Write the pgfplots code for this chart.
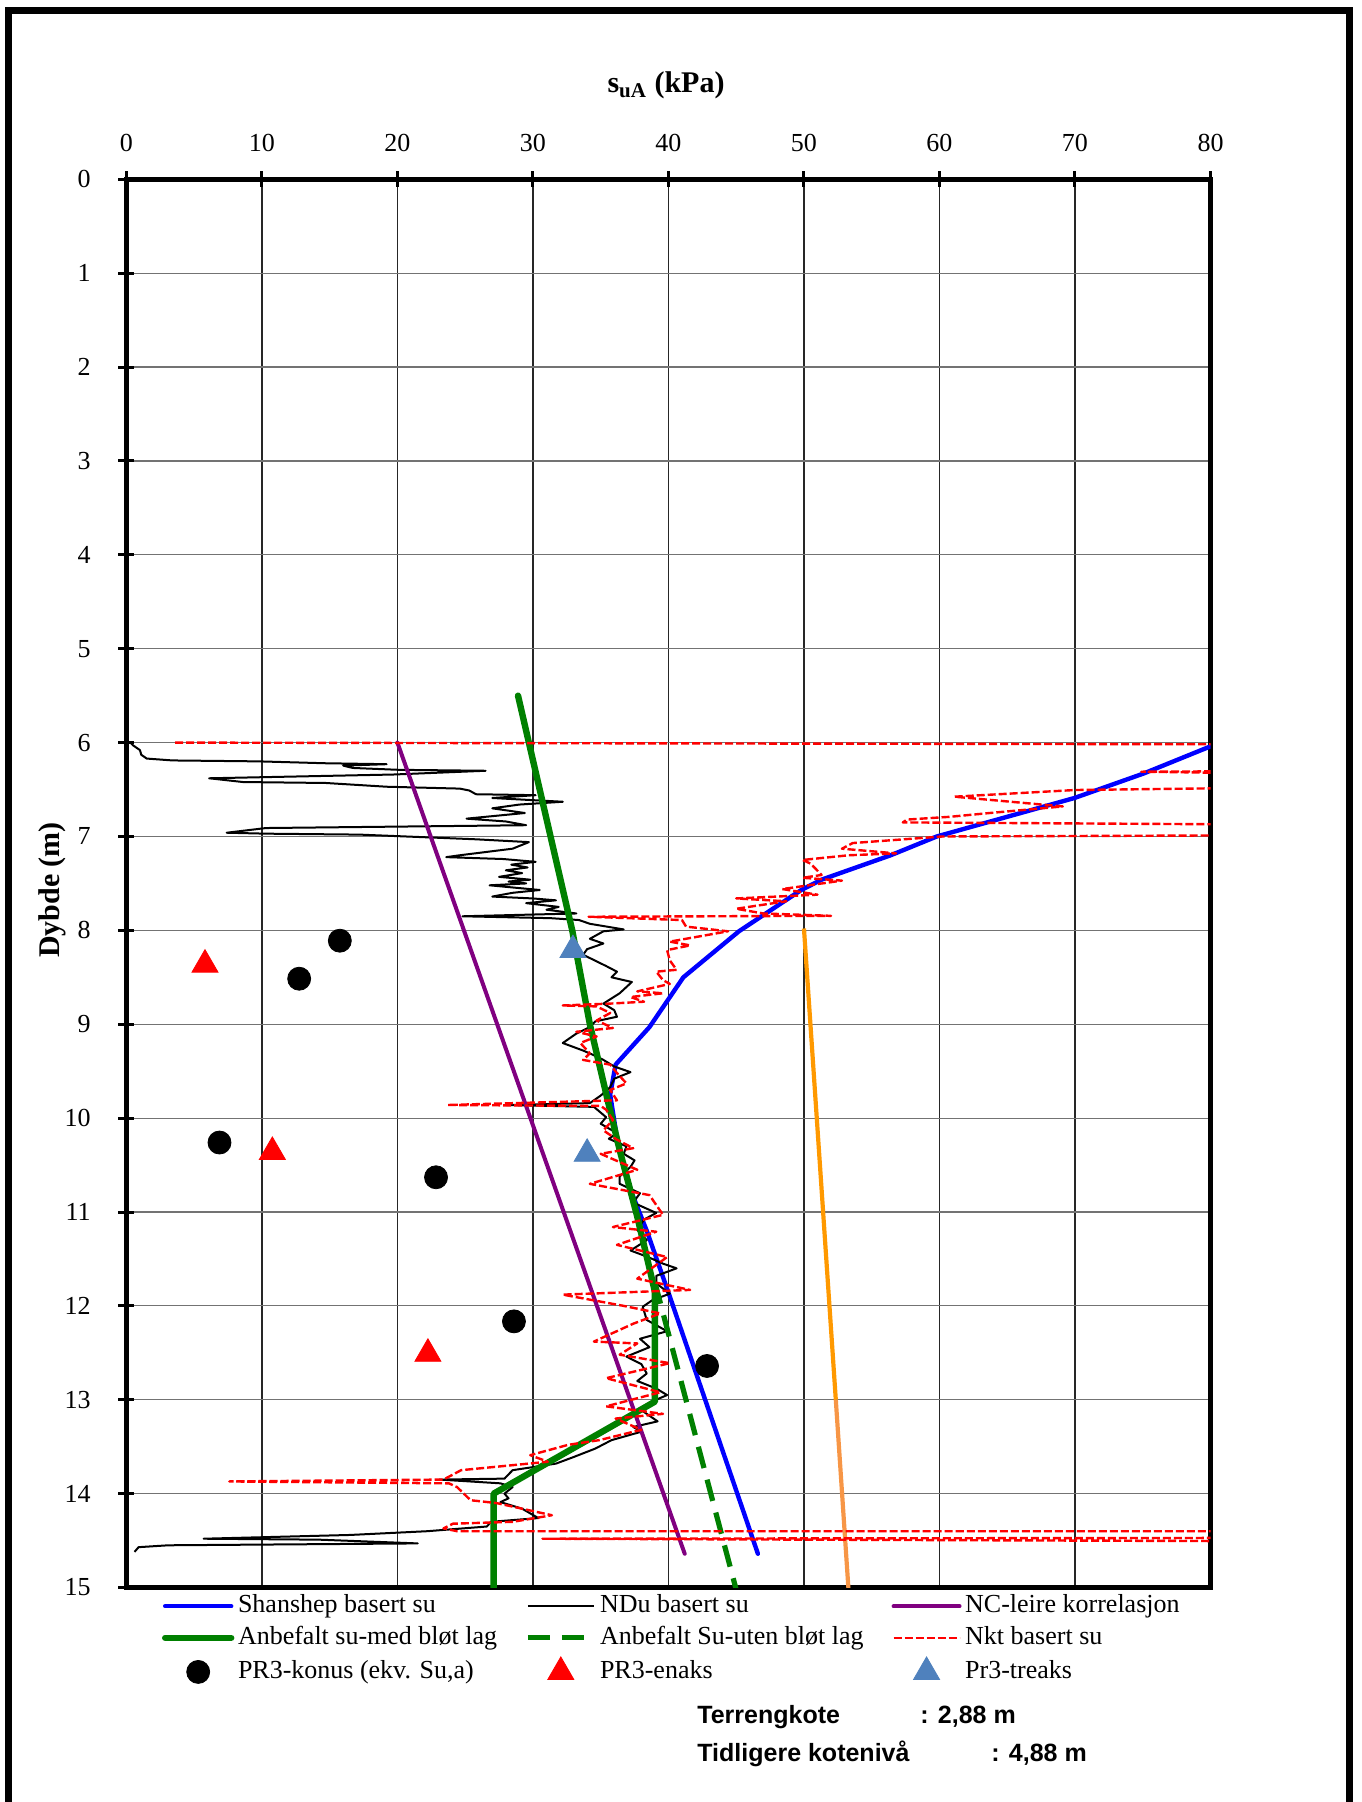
\documentclass[border=0pt]{standalone}
\usepackage{fontspec}
\setmainfont{Liberation Serif}
\setsansfont{Liberation Sans}
\usepackage{pgfplots}
\pgfplotsset{compat=1.18}
\definecolor{cBlue}{RGB}{0,0,255}
\definecolor{cGreen}{RGB}{0,128,0}
\definecolor{cPurple}{RGB}{128,0,128}
\definecolor{cOrange}{RGB}{255,153,0}
\definecolor{cOrangeB}{RGB}{247,150,70}
\definecolor{cTri}{RGB}{79,129,189}
\pgfplotsset{
  markleg/.style={legend image code/.code={\path[draw=none] (0pt,0pt) -- (33pt,0pt); \draw[##1] plot coordinates {(16.5pt,0pt)};}},
  lineleg/.style={legend image code/.code={\draw[##1] (0pt,0pt) -- (33pt,0pt);}}
}
\begin{document}
\begin{tikzpicture}
\useasboundingbox (0,0) rectangle (680.5pt,-901pt);
\draw[line width=3.5pt] (4pt,-910pt) -- (4pt,-5.5pt) -- (674.5pt,-5.5pt) -- (674.5pt,-910pt);
\begin{axis}[
  at={(63.2pt,-89.65pt)}, anchor=north west,
  scale only axis, width=542.05pt, height=704.1pt,
  xmin=0, xmax=80, ymin=0, ymax=15, y dir=reverse,
  xtick={0,10,...,80}, ytick={0,1,...,15},
  xtick pos=right, xticklabel pos=right,
  ytick pos=left, yticklabel pos=left,
  tick align=center, major tick length=8pt,
  major tick style={line width=1.5pt, black},
  axis line style={line width=2.5pt},
  xmajorgrids, ymajorgrids,
  x grid style={black!85, line width=0.6pt},
  y grid style={black!55, line width=0.6pt},
  ticklabel style={font=\fontsize{13}{15}\selectfont},
  /pgf/number format/assume math mode=true,
  xticklabel style={anchor=base, yshift=9.8pt},
  yticklabel style={anchor=east, inner sep=0pt, xshift=-13.7pt},
  legend columns=3, legend cell align=left,
  legend style={draw=none, fill=none, inner sep=0pt, outer sep=0pt,
    at={(axis description cs:0.03284,-0.0044)}, anchor=north west,
    font=\fontsize{13}{15}\selectfont, row sep=3.3pt,
    nodes={inner sep=0pt, text height=9.5pt, text depth=3pt},
    /tikz/every odd column/.append style={column sep=1.8pt},
    /tikz/every even column/.append style={column sep=14pt}},
]
% orange line (not in legend)
\addplot[cOrange, line width=2.1pt, forget plot] coordinates {(50.0,7.98) (52.35,13.0)};
\addplot[cOrangeB, line width=2.1pt, forget plot] coordinates {(52.35,13.0) (53.3,15.05)};
% Shanshep
\addplot[cBlue, line width=2.2pt, line cap=round, line join=round, lineleg] coordinates {
(80,6.04) (75.05,6.33) (69.96,6.59) (59.8,7.0) (56.4,7.2) (51.3,7.46) (49.8,7.57)
(45.2,8.01) (41.1,8.5) (38.6,9.03) (36.1,9.43) (35.7,9.75) (36.3,10.3) (37.3,10.8) (38.4,11.2) (40.1,11.9) (46.6,14.64)};
\addlegendentry{Shanshep basert su}
% NDu
\addplot[black, line width=1pt, line join=round, lineleg] coordinates {
(0.3,6.00) (0.5,6.03) (1.0,6.08) (1.1,6.13) (1.5,6.17) (3.4,6.19) (9.8,6.20) (14.7,6.22)
(19.2,6.23) (16.0,6.245) (16.7,6.27) (20.1,6.29) (26.5,6.30) (19.7,6.34) (6.1,6.38) (8.6,6.42)
(14.7,6.43) (19.2,6.47) (24.6,6.49) (25.3,6.51) (25.8,6.55) (30.2,6.56) (27.0,6.59) (32.2,6.63)
(29.0,6.66) (27.0,6.70) (29.4,6.75) (25.1,6.81) (28.0,6.84) (29.5,6.88) (10.3,6.91) (7.4,6.96)
(10.3,6.97) (17.2,6.98) (25.8,7.03) (29.7,7.06) (28.5,7.13) (24.6,7.20) (23.6,7.22) (27.8,7.24)
(30.2,7.27) (28.4,7.30) (29.6,7.33) (28.0,7.36) (29.2,7.39) (27.5,7.43) (29.8,7.46) (28.2,7.48)
(29.5,7.50) (26.8,7.52) (30.5,7.57) (28.5,7.60) (27.0,7.64) (30.0,7.66) (31.7,7.68) (29.5,7.71)
(31.9,7.75) (31.0,7.78) (33.2,7.82) (24.8,7.85) (31.3,7.87) (33.4,7.89) (34.2,7.93) (36.7,7.99)
(35.2,8.01) (34.2,8.09) (35.2,8.14) (34.0,8.20) (33.7,8.26) (34.7,8.33) (35.4,8.38) (36.2,8.44)
(35.8,8.50) (37.3,8.55) (36.4,8.67) (35.2,8.78) (36.0,8.85) (36.2,8.92) (34.6,8.97) (34.2,9.03)
(33.2,9.10) (32.2,9.20) (33.7,9.28) (34.5,9.33) (35.2,9.38) (36.0,9.45) (37.2,9.51) (36.0,9.58)
(35.7,9.67) (35.0,9.76) (34.2,9.84) (28.0,9.86) (34.5,9.88) (35.4,9.99) (35.0,10.06) (36.2,10.16)
(35.6,10.22) (36.9,10.30) (36.7,10.38) (37.5,10.45) (37.2,10.52) (36.4,10.62) (36.4,10.70)
(37.9,10.80) (37.4,10.90) (39.1,11.01) (38.2,11.08) (37.7,11.19) (38.4,11.30) (37.2,11.41)
(38.5,11.48) (39.6,11.55) (40.6,11.60) (39.1,11.68) (39.1,11.76) (40.1,11.87) (38.8,11.94)
(38.1,12.01) (38.4,12.15) (39.9,12.27) (37.9,12.35) (38.6,12.44) (36.9,12.54) (38.0,12.62)
(38.4,12.72) (37.7,12.80) (39.1,12.88) (39.9,12.95) (38.6,13.03) (38.0,13.11) (39.2,13.23)
(37.4,13.29) (38.0,13.34) (35.8,13.43) (34.6,13.52) (33.0,13.61) (31.7,13.68) (28.5,13.75)
(27.9,13.84) (23.1,13.85) (27.6,13.89) (28.5,13.93) (27.9,14.00) (28.2,14.05) (27.6,14.09)
(29.2,14.16) (30.4,14.26) (26.9,14.30) (26.6,14.35) (22.2,14.40) (16.5,14.44) (5.7,14.48)
(14.2,14.49) (21.5,14.53) (3.1,14.55) (0.9,14.57) (0.6,14.62)};
\addlegendentry{NDu basert su}
% NC-leire
\addplot[cPurple, line width=2pt, line cap=round, lineleg] coordinates {(20.0,6.0) (41.2,14.64)};
\addlegendentry{NC-leire korrelasjon}
% Anbefalt med
\addplot[cGreen, line width=3.2pt, line cap=round, line join=round, lineleg] coordinates {
(28.9,5.5) (32.9,8.0) (34.2,9.0) (35.5,9.8) (36.4,10.34) (37.7,11.05) (38.6,11.6) (39.0,11.85)
(39.0,13.02) (27.1,14.0) (27.1,15.1)};
\addlegendentry{Anbefalt su-med bløt lag}
% Anbefalt uten
\addplot[cGreen, line width=2.6pt, dash pattern=on 11pt off 6pt, lineleg] coordinates {(39.0,11.75) (45.05,15.05)};
\addlegendentry{Anbefalt Su-uten bløt lag}
% Nkt
\addplot[red, line width=1.2pt, dash pattern=on 4pt off 1.5pt, line join=round, lineleg] coordinates {
(3.6,6.00) (90,6.02) (90,6.30) (74.9,6.31) (90,6.34) (90,6.47) (70.0,6.505) (61.1,6.576)
(69.1,6.68) (63.7,6.75) (60.8,6.79) (57.6,6.82) (57.3,6.85) (90,6.878) (90,6.984) (60.2,7.00)
(53.6,7.07) (52.8,7.13) (56.8,7.18) (53.3,7.20) (49.9,7.25) (50.5,7.29) (51.3,7.41) (49.9,7.44)
(52.8,7.47) (48.4,7.56) (51.0,7.62) (45.0,7.66) (48.7,7.69) (45.0,7.77) (47.0,7.82) (52.0,7.845)
(34.1,7.855) (41.0,7.89) (41.3,7.96) (44.4,8.01) (40.1,8.12) (41.6,8.16) (39.9,8.21) (40.1,8.32)
(40.6,8.42) (39.1,8.44) (39.6,8.53) (40.1,8.57) (37.7,8.65) (39.6,8.67) (37.2,8.71) (38.2,8.76)
(35.7,8.78) (32.2,8.80) (34.7,8.81) (35.7,8.88) (34.7,8.96) (35.9,9.04) (33.2,9.08) (34.7,9.13)
(33.5,9.20) (34.2,9.31) (33.7,9.38) (35.7,9.43) (36.2,9.52) (36.9,9.63) (35.7,9.70) (36.2,9.81)
(23.7,9.86) (35.0,9.87) (35.4,9.91) (35.9,10.02) (35.2,10.13) (36.2,10.23) (37.4,10.32)
(35.0,10.38) (37.7,10.55) (34.2,10.70) (38.6,10.82) (39.6,11.03) (35.9,11.16) (39.1,11.21)
(36.2,11.35) (39.9,11.48) (37.7,11.71) (41.6,11.83) (32.2,11.88) (36.7,12.00) (39.4,12.08)
(37.4,12.19) (34.5,12.38) (37.7,12.40) (36.4,12.52) (40.1,12.61) (35.4,12.77) (39.4,12.92)
(35.4,13.07) (39.6,13.15) (36.1,13.20) (38.0,13.32) (34.9,13.43) (32.6,13.48) (29.8,13.59)
(31.1,13.66) (24.7,13.75) (23.4,13.85) (7.6,13.87) (23.8,13.89) (24.4,13.93) (25.4,14.07)
(27.3,14.10) (31.4,14.23) (28.5,14.30) (24.1,14.32) (23.4,14.37) (24.4,14.40) (90,14.40)
(90,14.47) (30.7,14.48) (90,14.51)};
\addlegendentry{Nkt basert su}
% markers
\addplot[only marks, mark=*, mark size=5.75pt, black, markleg]
  coordinates {(15.75,8.11) (12.75,8.515) (6.87,10.26) (22.85,10.63) (28.6,12.165) (42.85,12.64)};
\addlegendentry{PR3-konus (ekv. Su,a)}
\addplot[only marks, mark=triangle*, mark size=7.5pt, red, markleg]
  coordinates {(5.8,8.365) (10.77,10.36) (22.25,12.51)};
\addlegendentry{PR3-enaks}
\addplot[only marks, mark=triangle*, mark size=7.5pt, cTri, markleg]
  coordinates {(32.95,8.21) (34.0,10.38)};
\addlegendentry{Pr3-treaks}
\end{axis}
\node[anchor=base, font=\fontsize{15}{18}\selectfont\bfseries] at (333pt,-46.5pt) {s\textsubscript{uA} (kPa)};
\node[rotate=90, font=\fontsize{15}{18}\selectfont\bfseries] at (26pt,-445pt) {Dybde (m)};
\node[anchor=base west, inner sep=0pt, font=\sffamily\bfseries\fontsize{12.5}{15}\selectfont] at (348.5pt,-861.5pt) {Terrengkote};
\node[anchor=base west, inner sep=0pt, font=\sffamily\bfseries\fontsize{12.5}{15}\selectfont] at (460pt,-861.5pt) {: 2,88 m};
\node[anchor=base west, inner sep=0pt, font=\sffamily\bfseries\fontsize{12.5}{15}\selectfont] at (348.5pt,-880.5pt) {Tidligere kotenivå};
\node[anchor=base west, inner sep=0pt, font=\sffamily\bfseries\fontsize{12.5}{15}\selectfont] at (495.5pt,-880.5pt) {: 4,88 m};
\end{tikzpicture}
\end{document}
